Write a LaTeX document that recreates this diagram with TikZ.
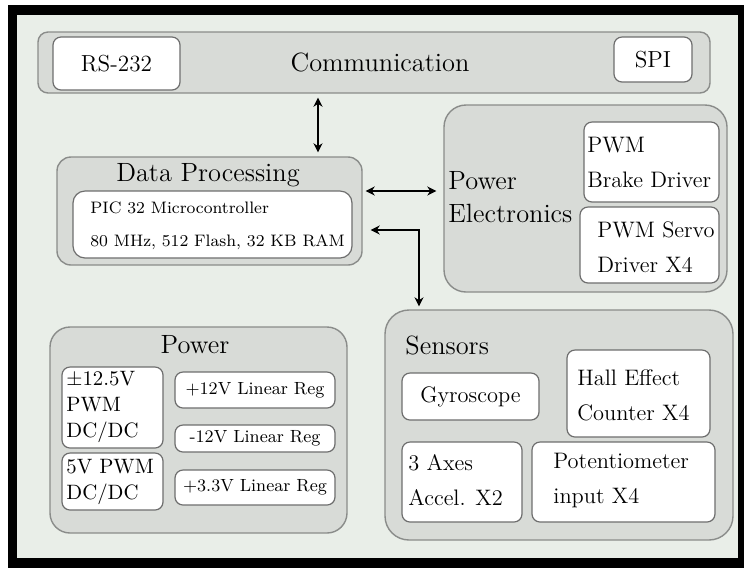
\documentclass[tikz,border=0pt]{standalone}
\usepackage{xcolor}
\usepackage{fontspec}
\usepackage{tikz}
\usetikzlibrary{arrows.meta, fit, positioning}

\definecolor{boardbg}{HTML}{E9EEE8}
\definecolor{groupfill}{HTML}{D8DBD7}
\definecolor{groupline}{HTML}{8A8C8A}
\definecolor{unitline}{HTML}{6E6E6E}

\begin{document}
\begin{tikzpicture}[
            x=0.5pt, y=-0.5pt,
            group/.style={draw=groupline, line width=0.7pt, fill=groupfill, inner sep=0pt},
            unit/.style={draw=unitline, line width=0.6pt, fill=white, inner sep=0pt, rounded corners=4pt},
            heading/.style={inner sep=0pt, font=\fontsize{13.2}{16.5}\selectfont},
            unittext/.style={anchor=west, align=left, inner sep=0pt, font=\fontsize{11.2}{17.5}\selectfont},
            regtext/.style={inner sep=0pt, font=\fontsize{8.8}{11}\selectfont},
            link/.style={{Stealth[length=4.5pt, width=4.5pt]}-{Stealth[length=4.5pt, width=4.5pt]}, line width=1pt}
        ]
            % Frame
            \fill[white] (0,0) rectangle (744,570);
            \fill[black] (8,5) rectangle (744,568);
            \fill[boardbg] (17,15) rectangle (738,558);

            % Communication
            \node[group, rounded corners=5pt, fit={(38,32) (710,93)}] (comm) {};
            \node[heading] (commtitle) at (380,62) {Communication};
            \node[unit, fit={(53,37) (180,90)}] (rs) {};
            \node[heading, font=\fontsize{11.6}{14}\selectfont] (rstext) at (rs.center) {RS-232};
            \node[unit, fit={(614,37) (692,82)}] (spi) {};
            \node[heading, font=\fontsize{11.6}{14}\selectfont] (spitext) at (spi.center) {SPI};

            % Data processing
            \node[group, rounded corners=7pt, fit={(57,157) (362,265)}] (dp) {};
            \node[heading] (dptitle) at (208,175) {Data Processing};
            \node[unit, rounded corners=6pt, fit={(73,191) (352,258)}] (pic) {};
            \node[unittext, font=\fontsize{8.3}{16.5}\selectfont] (pictext) at (90,226) {PIC 32 Microcontroller\\80 MHz, 512 Flash, 32 KB RAM};

            % Power electronics
            \node[group, rounded corners=11pt, fit={(444,105) (727,292)}] (pe) {};
            \node[heading, anchor=west, align=left] (petitle) at (448,197) {Power\\Electronics};
            \node[unit, fit={(584,122) (719,202)}] (brake) {};
            \node[unittext] (braketext) at (587,162) {PWM\\Brake Driver};
            \node[unit, fit={(580,207) (719,283)}] (servo) {};
            \node[unittext] (servotext) at (597,247) {PWM Servo\\Driver X4};

            % Sensors
            \node[group, rounded corners=12pt, fit={(385,310) (733,540)}] (sens) {};
            \node[heading, anchor=west] (senstitle) at (405,345) {Sensors};
            \node[unit, fit={(402,373) (539,420)}] (gyro) {};
            \node[unittext, anchor=center] (gyrotext) at (gyro.center) {Gyroscope};
            \node[unit, fit={(567,350) (710,437)}] (hall) {};
            \node[unittext] (halltext) at (577,395) {Hall Effect\\Counter X4};
            \node[unit, fit={(402,442) (522,522)}] (accel) {};
            \node[unittext] (acceltext) at (408,480) {3 Axes\\Accel. X2};
            \node[unit, fit={(532,442) (715,522)}] (pot) {};
            \node[unittext] (pottext) at (553,481) {Potentiometer\\input X4};

            % Power
            \node[group, rounded corners=10pt, fit={(50,327) (347,533)}] (pwr) {};
            \node[heading] (pwrtitle) at (195,345) {Power};
            \node[unit, fit={(62,367) (163,448)}] (dcdca) {};
            \node[unittext, font=\fontsize{10.4}{13}\selectfont] (dcdcatext) at (66,407) {±12.5V\\PWM\\DC/DC};
            \node[unit, fit={(62,453) (163,510)}] (dcdcb) {};
            \node[unittext, font=\fontsize{10.4}{13}\selectfont] (dcdcbtext) at (66,482) {5V PWM\\DC/DC};
            \node[unit, fit={(175,372) (335,408)}] (regpos) {};
            \node[regtext] (regpostext) at (regpos.center) {+12V Linear Reg};
            \node[unit, fit={(175,425) (335,452)}] (regneg) {};
            \node[regtext] (regnegtext) at (regneg.center) {-12V Linear Reg};
            \node[unit, fit={(175,470) (335,505)}] (reglow) {};
            \node[regtext] (reglowtext) at (reglow.center) {+3.3V Linear Reg};

            % Arrows
            \coordinate (commlink) at (318,0);
            \coordinate (pelink) at (0,191);
            \coordinate (senslink) at (419,230);
            \draw[link, shorten <=2pt, shorten >=2pt] (comm.south -| commlink) -- (dp.north -| commlink);
            \draw[link, shorten <=1.5pt, shorten >=3.5pt] (dp.east |- pelink) -- (pe.west |- pelink);
            \draw[link, shorten <=4pt, shorten >=1.5pt] (dp.east |- senslink) -- (senslink) -- (sens.north -| senslink);

        \end{tikzpicture}
\end{document}
